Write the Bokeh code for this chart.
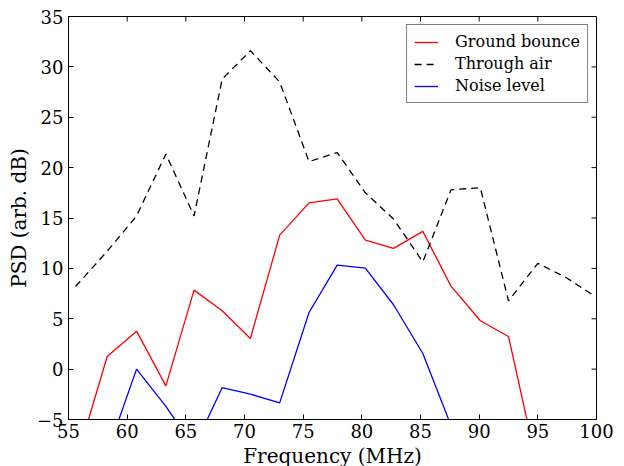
import math
from bokeh.plotting import figure
from bokeh.models import Legend, LegendItem, FixedTicker, CustomJSTickFormatter, Range1d
from bokeh.embed import file_html
from bokeh.resources import INLINE

# Data
freq_mhz = [55.6, 58.3, 60.8, 63.3, 65.7, 68.1, 70.5, 73.0, 75.5, 77.9,
            80.3, 82.7, 85.2, 87.6, 90.1, 92.5, 95.0, 97.4, 99.9]
ground_bounce = [-9.3, 1.25, 3.77, -1.66, 7.84, 5.79, 3.04, 13.3, 16.5, 16.9,
                 12.8, 11.98, 13.67, 8.24, 4.8, 3.24, -9.9, -12.0, -11.0]
through_air = [8.2, 11.7, 15.2, 21.35, 15.2, 28.8, 31.6, 28.5, 20.6, 21.5,
               17.5, 14.9, 10.65, 17.8, 18.0, 6.78, 10.5, 9.1, 7.2]
noise_level = [-12.0, -8.3, 0.0, -3.7, -7.8, -1.83, -2.48, -3.35, 5.62, 10.33,
               10.03, 6.39, 1.55, -5.6, -10.0, -12.0, -13.0, -12.0, -14.0]

x_ticks = [55, 60, 65, 70, 75, 80, 85, 90, 95, 100]
y_ticks = [-5, 0, 5, 10, 15, 20, 25, 30, 35]
series_labels = ["Ground bounce", "Through air", "Noise level"]

X_MIN, X_MAX = 55, 100
Y_MIN, Y_MAX = -5, 35
FONT = "DejaVu Serif"

p = figure(frame_width=528, frame_height=403,
           x_range=Range1d(X_MIN, X_MAX), y_range=Range1d(Y_MIN, Y_MAX),
           output_backend="svg", toolbar_location=None,
           min_border_left=68, min_border_right=28,
           min_border_top=16, min_border_bottom=46,
           background_fill_color="white", border_fill_color="white")
p.grid.visible = False
p.outline_line_color = "black"
p.outline_line_width = 1

fmt = CustomJSTickFormatter(code="return tick < 0 ? '\\u2212' + Math.abs(tick) : String(tick);")

for ax, ticks in ((p.xaxis[0], x_ticks), (p.yaxis[0], y_ticks)):
    ax.ticker = FixedTicker(ticks=ticks)
    ax.formatter = fmt
    ax.major_tick_in = 5
    ax.major_tick_out = 0
    ax.minor_tick_line_color = None
    ax.axis_line_color = "black"
    ax.major_tick_line_color = "black"
    ax.major_label_text_font = FONT
    ax.major_label_text_font_size = "18px"
    ax.major_label_text_color = "black"
    ax.axis_label_text_font = FONT
    ax.axis_label_text_font_size = "20px"
    ax.axis_label_text_font_style = "normal"
    ax.axis_label_text_color = "black"
    ax.axis_label_standoff = 3
p.xaxis[0].major_label_standoff = 4
p.yaxis[0].major_label_standoff = 5
p.xaxis.axis_label = "Frequency (MHz)"
p.yaxis.axis_label = "PSD (arb. dB)"

# inward tick marks on the top and right edges (clipped to the frame)
p.scatter(x=x_ticks, y=[Y_MAX] * len(x_ticks), marker="dash", angle=math.pi / 2,
          size=10, line_color="black", line_width=1)
p.scatter(x=[X_MAX] * len(y_ticks), y=y_ticks, marker="dash",
          size=10, line_color="black", line_width=1)

r1 = p.line(freq_mhz, ground_bounce, line_color="#ff0000", line_width=1.3)
r2 = p.line(freq_mhz, through_air, line_color="black", line_width=1.3, line_dash="7 5")
r3 = p.line(freq_mhz, noise_level, line_color="#0000ff", line_width=1.3)

legend = Legend(items=[LegendItem(label=series_labels[0], renderers=[r1]),
                       LegendItem(label=series_labels[1], renderers=[r2]),
                       LegendItem(label=series_labels[2], renderers=[r3])],
                location="top_right")
legend.label_text_font = FONT
legend.label_text_font_size = "16px"
legend.label_text_color = "black"
legend.border_line_color = "black"
legend.border_line_width = 1
legend.background_fill_color = "white"
legend.background_fill_alpha = 1
legend.glyph_width = 24
legend.glyph_height = 18
legend.label_height = 18
legend.spacing = 3
legend.padding = 7
legend.label_standoff = 17
legend.margin = 8
p.add_layout(legend, "center")

open("out.html", "w").write(file_html(p, INLINE))
